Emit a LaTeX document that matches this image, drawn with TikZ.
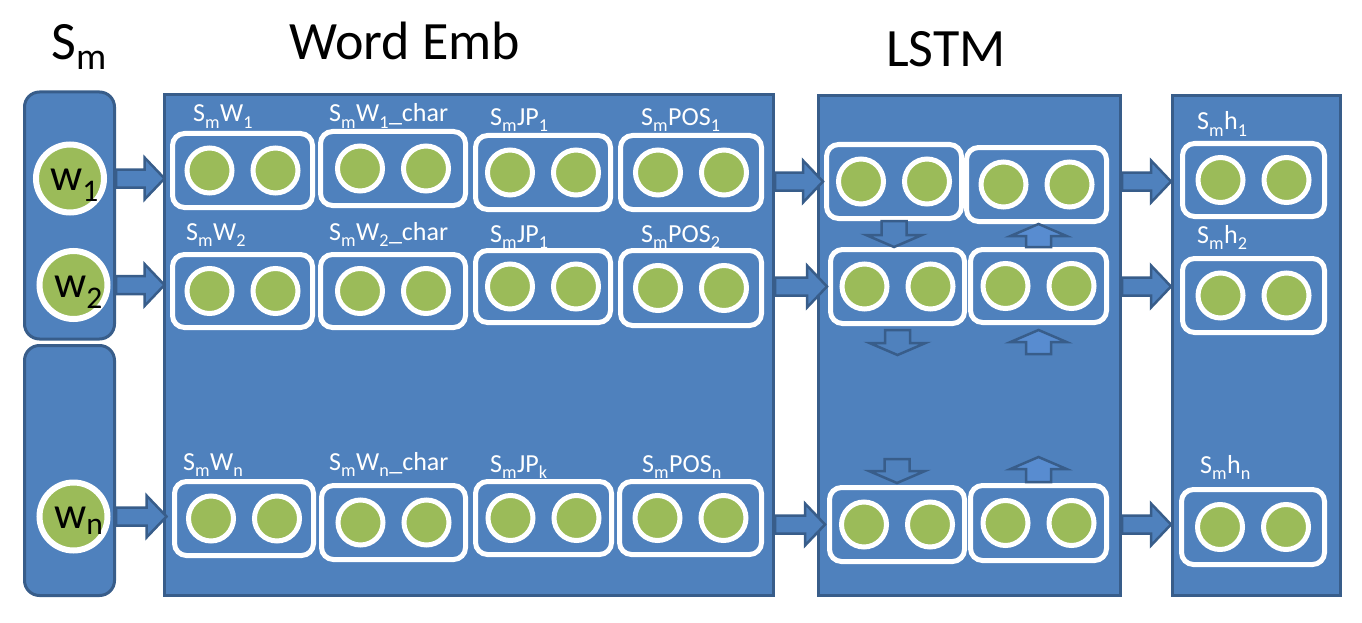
\documentclass[tikz,border=0pt]{standalone}
\usepackage{fontspec}
\setmainfont{Carlito}
\usetikzlibrary{calc}
\usetikzlibrary{positioning}

\definecolor{panelblue}{RGB}{79,129,189}
\definecolor{paneledge}{RGB}{56,93,138}
\definecolor{cellgreen}{RGB}{155,187,89}
\definecolor{liftblue}{RGB}{88,140,208}

%lowered subscript as in the slides
\newcommand{\lsub}[1]{\raisebox{-0.1em}{\textsubscript{#1}}}

\tikzset{
	panel/.style={draw=paneledge, fill=panelblue, line width=3pt, inner sep=0pt},
	column/.style={panel, rounded corners=15pt},
	group/.style={draw=white, fill=panelblue, line width=5pt, rounded corners=12pt, inner sep=0pt},
	cell/.style={circle, draw=white, fill=cellgreen, line width=5pt, minimum size=45pt, inner sep=0pt},
	wcell/.style={circle, draw=white, fill=cellgreen, line width=6pt, minimum size=68pt, inner sep=0pt},
	wtext/.style={anchor=base west, inner sep=0pt, font=\fontsize{45}{50}\selectfont},
	tag/.style={anchor=base west, inner sep=0pt, text=white, font=\fontsize{26}{30}\selectfont},
	title/.style={anchor=base west, inner sep=0pt, font=\fontsize{54}{60}\selectfont},
	blockarrow/.style={draw=paneledge, fill=panelblue, line width=2.5pt, line join=miter},
}

%group box with its two cells, name, centre x, centre y, width, height
\newcommand{\unitbox}[5]{%
	\node[group, minimum width=#4pt, minimum height=#5pt] (#1) at (#2,#3) {};
	\node[cell] (#1a) at ($(#1.center)+(-33,0)$) {};
	\node[cell] (#1b) at ($(#1.center)+(33,0)$) {};
}

%right pointing block arrow, y taken from the start
\newcommand{\rightblock}[2]{%
	\draw[blockarrow] let \p1=(#1), \p2=(#2) in
		(\x1,\y1+9pt) -- (\x2-20pt,\y1+9pt) -- (\x2-20pt,\y1+21pt) -- (\x2,\y1)
		-- (\x2-20pt,\y1-21pt) -- (\x2-20pt,\y1-9pt) -- (\x1,\y1-9pt) -- cycle;
}

%vertical block arrow, x taken from the start
\newcommand{\vertblock}[3][]{%
	\draw[blockarrow,#1] let \p1=(#2), \p2=(#3), \n1={12*(\y2-\y1)/abs(\y2-\y1)} in
		(\x1-12.5pt,\y1) -- (\x1-12.5pt,{\y2-(\n1)*1pt}) -- (\x1-28pt,{\y2-(\n1)*1pt}) -- (\x1,\y2)
		-- (\x1+28pt,{\y2-(\n1)*1pt}) -- (\x1+12.5pt,{\y2-(\n1)*1pt}) -- (\x1+12.5pt,\y1) -- cycle;
}

\begin{document}
\begin{tikzpicture}[x=1pt, y=-1pt]

	\useasboundingbox (0,0) rectangle (1362,623);

	%titles
	\node[title] (tsm) at (51,60) {S\textsubscript{m}};
	\node[title] (temb) at (289,60) {Word Emb};
	\node[title] (tlstm) at (886,67) {LSTM};

	%panels
	\node[column, minimum width=90pt, minimum height=247pt] (scol1) at (69.5,215.5) {};
	\node[column, minimum width=90pt, minimum height=250pt] (scol2) at (69.5,470.5) {};
	\node[panel, minimum width=609pt, minimum height=501pt] (emb) at (469,345) {};
	\node[panel, minimum width=302pt, minimum height=500pt] (lstm) at (969.5,345.5) {};
	\node[panel, minimum width=168pt, minimum height=500pt] (outp) at (1256.5,345.5) {};

	%words
	\node[wcell] (w1) at (70,178.5) {};
	\node[wcell] (w2) at (73.5,285) {};
	\node[wcell] (wn) at (73.5,516.5) {};
	\node[wtext] (w1t) at (50,190) {w\textsubscript{1}};
	\node[wtext] (w2t) at (54,297) {w\textsubscript{2}};
	\node[wtext] (wnt) at (54,528) {w\textsubscript{n}};

	%word embedding groups
	\unitbox{e11}{242.5}{170.5}{140}{74}
	\unitbox{e12}{393}{168.5}{145}{74}
	\unitbox{e13}{543}{172.5}{135}{74}
	\unitbox{e14}{691}{172.5}{141}{74}
	\unitbox{e21}{242.5}{291}{140}{73}
	\unitbox{e22}{393}{291}{145}{73}
	\unitbox{e23}{543}{286.5}{135}{72}
	\unitbox{e24}{691}{288}{141}{75}
	\unitbox{e31}{244}{518.5}{139}{74}
	\unitbox{e32}{393.5}{522.5}{144}{74}
	\unitbox{e33}{543.5}{518}{136}{73}
	\unitbox{e34}{690.5}{518}{142}{73}
	\node[tag] (e11l) at (193,122) {S\lsub{m}W\lsub{1}};
	\node[tag] (e12l) at (329,122) {S\lsub{m}W\lsub{1}\_char};
	\node[tag] (e13l) at (490,125) {S\lsub{m}JP\lsub{1}};
	\node[tag] (e14l) at (641,125) {S\lsub{m}POS\lsub{1}};
	\node[tag] (e21l) at (186,240) {S\lsub{m}W\lsub{2}};
	\node[tag] (e22l) at (329,240) {S\lsub{m}W\lsub{2}\_char};
	\node[tag] (e23l) at (490,242) {S\lsub{m}JP\lsub{1}};
	\node[tag] (e24l) at (641,242) {S\lsub{m}POS\lsub{2}};
	\node[tag] (e31l) at (183,470) {S\lsub{m}W\lsub{n}};
	\node[tag] (e32l) at (329,470) {S\lsub{m}W\lsub{n}\_char};
	\node[tag] (e33l) at (490,472) {S\lsub{m}JP\lsub{k}};
	\node[tag] (e34l) at (642,472) {S\lsub{m}POS\lsub{n}};

	%lstm groups, forward and backward
	\unitbox{l11}{894}{181.5}{135}{74}
	\unitbox{l12}{1036.5}{184.5}{140}{74}
	\unitbox{l21}{897.5}{286.5}{134}{74}
	\unitbox{l22}{1038.5}{286}{136}{73}
	\unitbox{l31}{897}{524.5}{135}{74}
	\unitbox{l32}{1038.5}{523}{136}{75}

	%output groups
	\unitbox{r1}{1253.5}{180}{142}{73}
	\unitbox{r2}{1253.5}{295.5}{142}{74}
	\unitbox{r3}{1253}{527}{143}{75}
	\node[tag] (r1l) at (1197,130) {S\lsub{m}h\lsub{1}};
	\node[tag] (r2l) at (1197,243) {S\lsub{m}h\lsub{2}};
	\node[tag] (r3l) at (1200,473) {S\lsub{m}h\lsub{n}};

	%arrows between the panels
	\rightblock{w1 -| scol1.east}{[xshift=-5.5pt]e11.west}
	\rightblock{w2 -| scol1.east}{[xshift=-5.5pt]e21.west}
	\rightblock{wn -| scol2.east}{[xshift=-5.5pt]e31.west}
	\rightblock{l11 -| emb.east}{[xshift=-1pt]l11.west}
	\rightblock{l21 -| emb.east}{[xshift=-1pt]l21.west}
	\rightblock{l31 -| emb.east}{[xshift=-2pt]l31.west}
	\rightblock{l11 -| lstm.east}{[xshift=-9pt]r1.west}
	\rightblock{l21 -| lstm.east}{[xshift=-9pt]r2.west}
	\rightblock{l31 -| lstm.east}{[xshift=-8pt]r3.west}

	%arrows inside the lstm
	\coordinate (d2end) at ($(l21.south)+(0,29)$);
	\coordinate (u2start) at ($(l22.south)+(0,29)$);
	\coordinate (d3start) at ($(l31.north)+(0,-26)$);
	\coordinate (u3end) at ($(l32.north)+(0,-26)$);
	\vertblock{l11.south}{l21.north}
	\vertblock[fill=liftblue]{l22.north}{l12.south}
	\vertblock{[yshift=-4pt]l21.south}{d2end}
	\vertblock[fill=liftblue]{u2start}{[yshift=-5pt]l22.south}
	\vertblock{d3start}{[yshift=2pt]l31.north}
	\vertblock[fill=liftblue]{[yshift=1pt]l32.north}{u3end}

\end{tikzpicture}
\end{document}
